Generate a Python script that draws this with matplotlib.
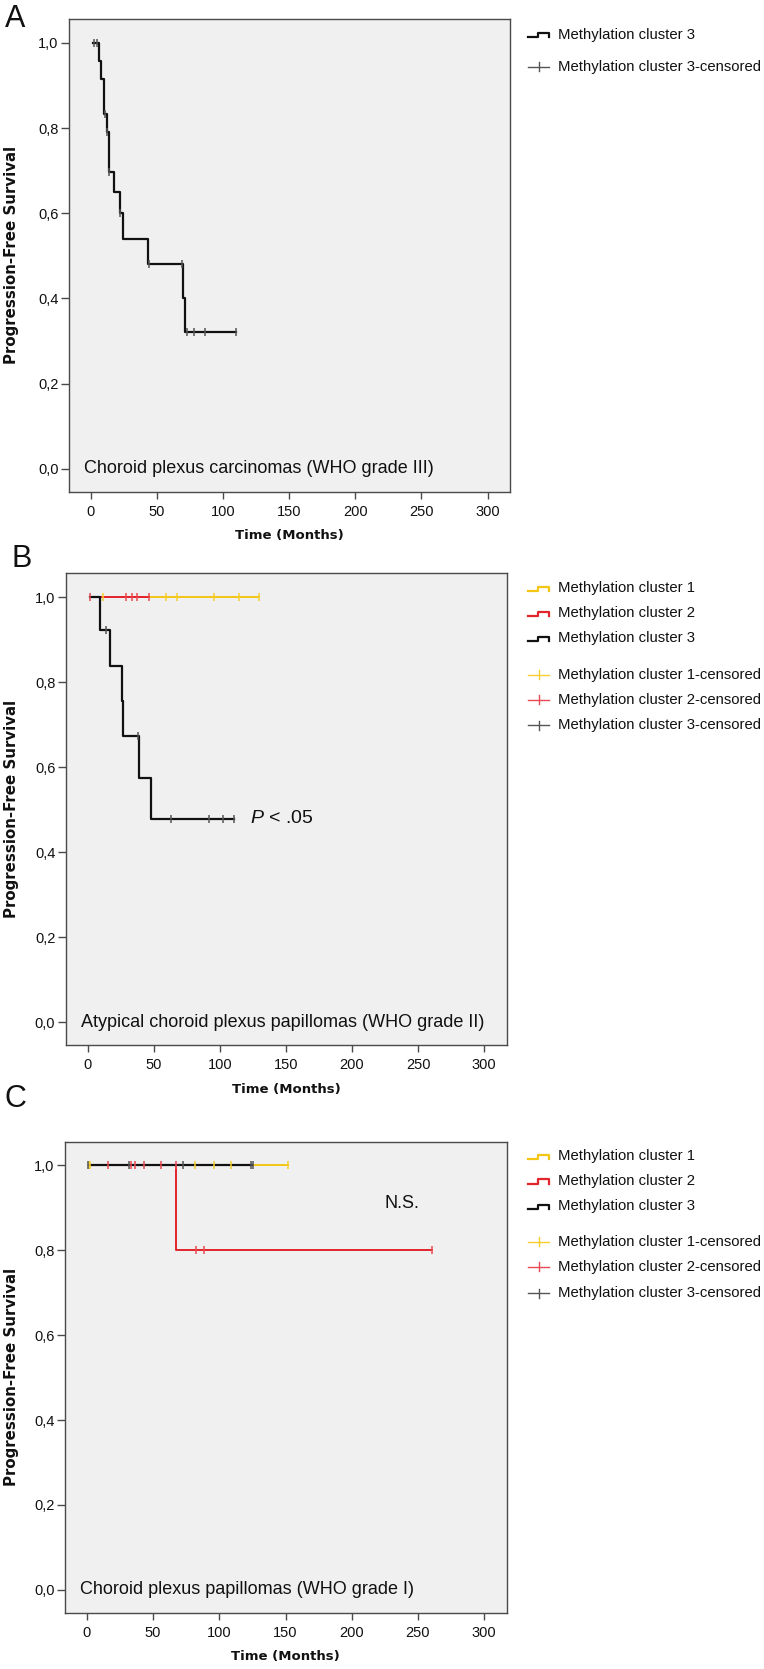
import numpy as np
import matplotlib
matplotlib.use("Agg")
import matplotlib.pyplot as plt
from matplotlib.lines import Line2D

plt.rcParams['font.family'] = ['Liberation Sans', 'DejaVu Sans']
plt.rcParams['mathtext.fontset'] = 'custom'
plt.rcParams['mathtext.it'] = 'Liberation Sans:italic'
plt.rcParams['mathtext.rm'] = 'Liberation Sans'

# ---------------- data ----------------
x_ticks = [0, 50, 100, 150, 200, 250, 300]
y_ticks = [0.0, 0.2, 0.4, 0.6, 0.8, 1.0]
y_tick_labels = ['0,0', '0,2', '0,4', '0,6', '0,8', '1,0']

# Panel A: carcinomas, methylation cluster 3
a3_time = [2.0, 6.5, 7.8, 9.8, 12.1, 13.6, 14.0, 17.8, 21.9, 24.4, 43.3, 69.5, 71.2, 109.5]
a3_surv = [1.0, 0.958, 0.916, 0.834, 0.790, 0.743, 0.696, 0.649, 0.600, 0.540, 0.480, 0.400, 0.320, 0.320]
a3_cens_t = [2.5, 4.5, 10.8, 12.6, 14.1, 21.9, 43.8, 68.7, 72.8, 77.9, 86.1, 109.5]
a3_cens_s = [1.0, 1.0, 0.834, 0.790, 0.696, 0.600, 0.480, 0.480, 0.320, 0.320, 0.320, 0.320]

# Panel B: atypical papillomas
b1_time = [1.7, 129.9]
b1_surv = [1.0, 1.0]
b1_cens_t = [11.8, 59.5, 67.8, 95.4, 114.8, 129.9]
b1_cens_s = [1.0, 1.0, 1.0, 1.0, 1.0, 1.0]
b2_time = [1.7, 46.2]
b2_surv = [1.0, 1.0]
b2_cens_t = [1.7, 29.4, 33.9, 37.4, 46.2]
b2_cens_s = [1.0, 1.0, 1.0, 1.0, 1.0]
b3_time = [1.7, 9.8, 17.0, 25.8, 26.6, 38.7, 47.7, 111.0]
b3_surv = [1.0, 0.923, 0.838, 0.755, 0.673, 0.575, 0.478, 0.478]
b3_cens_t = [13.8, 38.2, 62.8, 92.2, 102.2, 111.0]
b3_cens_s = [0.923, 0.673, 0.478, 0.478, 0.478, 0.478]

# Panel C: papillomas
c1_time = [1.5, 152.0]
c1_surv = [1.0, 1.0]
c1_cens_t = [1.5, 2.6, 81.9, 95.8, 109.1, 152.0]
c1_cens_s = [1.0, 1.0, 1.0, 1.0, 1.0, 1.0]
c2_time = [1.5, 67.5, 260.3]
c2_surv = [1.0, 0.8, 0.8]
c2_cens_t = [15.9, 33.5, 36.5, 43.1, 56.2, 67.0, 82.7, 88.2, 260.3]
c2_cens_s = [1.0, 1.0, 1.0, 1.0, 1.0, 1.0, 0.8, 0.8, 0.8]
c3_time = [1.5, 124.7]
c3_surv = [1.0, 1.0]
c3_cens_t = [1.0, 32.0, 72.6, 124.3, 125.3]
c3_cens_s = [1.0, 1.0, 1.0, 1.0, 1.0]

panel_titles = ['Choroid plexus carcinomas (WHO grade III)',
                'Atypical choroid plexus papillomas (WHO grade II)',
                'Choroid plexus papillomas (WHO grade I)']
cluster_names = ['Methylation cluster 1', 'Methylation cluster 2', 'Methylation cluster 3']

# ---------------- style ----------------
W, H = 764, 1669
YEL, YEL_C = '#F3C614', '#F6CF2E'
RED, RED_C = '#E2242D', '#EA4A52'
BLK, BLK_C = '#111111', '#555555'
FRAME = '#4a4a4a'
BG = '#F0F0F0'

fig = plt.figure(figsize=(W / 100, H / 100), dpi=100)


def fx(px):
    return px / W


def fy(py):
    return 1 - py / H


def make_ax(left, top, right, bottom):
    ax = fig.add_axes([fx(left), fy(bottom), (right - left) / W, (bottom - top) / H])
    ax.set_facecolor(BG)
    ax.set_xlim(-16.5, 317)
    ax.set_ylim(-0.054, 1.056)
    ax.set_xticks(x_ticks)
    ax.set_xticklabels([str(v) for v in x_ticks])
    ax.set_yticks(y_ticks)
    ax.set_yticklabels(y_tick_labels)
    for s in ax.spines.values():
        s.set_color(FRAME)
        s.set_linewidth(1.0)
    ax.tick_params(axis='x', length=5, width=1, color=FRAME, pad=4.5, labelsize=10.5, labelcolor='#111111')
    ax.tick_params(axis='y', length=5.5, width=1, color=FRAME, pad=2, labelsize=10.5, labelcolor='#111111')
    return ax


def km(ax, t, s, col, lw):
    ax.step(t, s, where='post', color=col, lw=lw, zorder=3)


def cens(ax, tc, sc, ccol):
    ax.plot(tc, sc, ls='none', marker='|', ms=6, mew=1.1, color=ccol, zorder=5)


def ax_labels(ax, left, right, bottom, top):
    cx = (left + right) / 2
    fig.text(fx(cx), fy(bottom + 44), 'Time (Months)', ha='center', va='center',
             fontsize=9.5, fontweight='bold', family='DejaVu Sans', color='#111111')
    fig.text(fx(12), fy((top + bottom) / 2), 'Progression-Free Survival', ha='center', va='center',
             rotation=90, fontsize=10.8, fontweight='bold', family='DejaVu Sans', color='#111111')


def legend(rows, entries):
    for yc, (lab, col, kind) in zip(rows, entries):
        if kind == 'line':
            xs = [528, 538, 538, 549, 549]
            ys = [yc + 2.5, yc + 2.5, yc - 1.5, yc - 1.5, yc + 2.5]
            fig.add_artist(Line2D([fx(v) for v in xs], [fy(v) for v in ys], color=col, lw=1.6,
                                  transform=fig.transFigure))
        else:
            fig.add_artist(Line2D([fx(528), fx(549)], [fy(yc), fy(yc)], color=col, lw=1.0,
                                  transform=fig.transFigure))
            fig.add_artist(Line2D([fx(538.5), fx(538.5)], [fy(yc - 4.5), fy(yc + 4.5)], color=col, lw=1.0,
                                  transform=fig.transFigure))
        fig.text(fx(558), fy(yc), lab, ha='left', va='center', fontsize=10.7, color='#111111')


# ---------------- Panel A ----------------
axA = make_ax(69, 19, 510, 491.7)
km(axA, a3_time, a3_surv, BLK, 1.6)
cens(axA, a3_cens_t, a3_cens_s, BLK_C)
axA.text(-4.8, 0.0, panel_titles[0], ha='left', va='center', fontsize=13, color='#111111')
ax_labels(axA, 69, 510, 491.7, 19)
legend([35, 67], [(cluster_names[2], BLK, 'line'),
                  (cluster_names[2] + '-censored', BLK_C, 'cens')])
fig.text(fx(15), fy(19), 'A', fontsize=22, ha='center', va='center', color='#111111')

# ---------------- Panel B ----------------
axB = make_ax(65.7, 573.3, 506.7, 1045)
km(axB, b1_time, b1_surv, YEL, 1.4)
km(axB, b2_time, b2_surv, RED, 1.4)
km(axB, b3_time, b3_surv, BLK, 1.6)
cens(axB, b1_cens_t, b1_cens_s, YEL_C)
cens(axB, b2_cens_t, b2_cens_s, RED_C)
cens(axB, b3_cens_t, b3_cens_s, BLK_C)
axB.text(-4.8, 0.0, panel_titles[1], ha='left', va='center', fontsize=13, color='#111111')
axB.text(123, 0.478, r'$P$ < .05', ha='left', va='center', fontsize=14, color='#111111')
ax_labels(axB, 65.7, 506.7, 1045, 573.3)
legend([588.3, 613.3, 638.3, 675, 700, 725],
       [(cluster_names[0], YEL, 'line'), (cluster_names[1], RED, 'line'), (cluster_names[2], BLK, 'line'),
        (cluster_names[0] + '-censored', YEL_C, 'cens'), (cluster_names[1] + '-censored', RED_C, 'cens'),
        (cluster_names[2] + '-censored', BLK_C, 'cens')])
fig.text(fx(22), fy(559), 'B', fontsize=22, ha='center', va='center', color='#111111')

# ---------------- Panel C ----------------
axC = make_ax(65, 1141.7, 506.7, 1612.7)
km(axC, c1_time, c1_surv, YEL, 1.4)
km(axC, c2_time, c2_surv, RED, 1.4)
km(axC, c3_time, c3_surv, BLK, 1.6)
cens(axC, c1_cens_t, c1_cens_s, YEL_C)
cens(axC, c2_cens_t, c2_cens_s, RED_C)
cens(axC, c3_cens_t, c3_cens_s, BLK_C)
axC.text(-4.8, 0.0, panel_titles[2], ha='left', va='center', fontsize=13, color='#111111')
axC.text(225, 0.91, 'N.S.', ha='left', va='center', fontsize=13, color='#111111')
ax_labels(axC, 65, 506.7, 1612.7, 1141.7)
legend([1156, 1181, 1206, 1241.7, 1266.7, 1293.3],
       [(cluster_names[0], YEL, 'line'), (cluster_names[1], RED, 'line'), (cluster_names[2], BLK, 'line'),
        (cluster_names[0] + '-censored', YEL_C, 'cens'), (cluster_names[1] + '-censored', RED_C, 'cens'),
        (cluster_names[2] + '-censored', BLK_C, 'cens')])
fig.text(fx(15), fy(1099), 'C', fontsize=22, ha='center', va='center', color='#111111')

fig.savefig('out.png', dpi=100)
